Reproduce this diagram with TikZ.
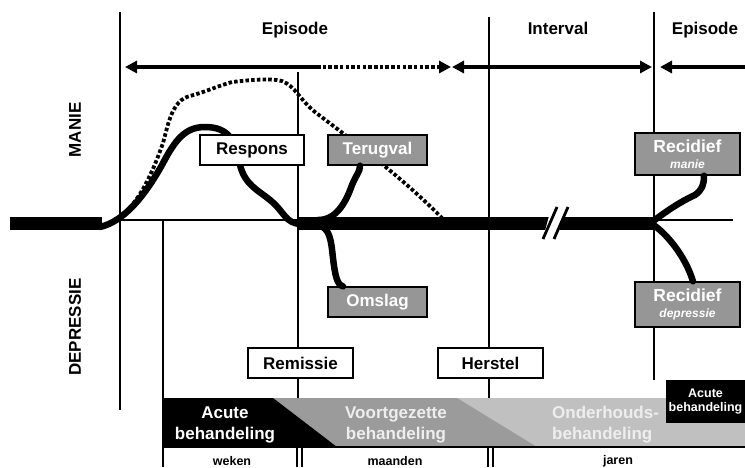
\documentclass[tikz,border=0pt]{standalone}
\usepackage{fontspec}
\setmainfont{Liberation Sans}
\usetikzlibrary{arrows.meta,calc}
\definecolor{boxgrey}{RGB}{150,150,150}
\definecolor{midgrey}{RGB}{155,155,155}
\definecolor{lightgrey}{RGB}{192,192,192}
\definecolor{palefont}{RGB}{238,238,238}
\begin{document}
\begin{tikzpicture}[x=1pt,y=-1pt,
  rule/.style={line width=1.4pt},
  course/.style={line width=6.5pt,line cap=round},
  trend/.style={line width=3.8pt,dash pattern=on 3.5pt off 2.2pt},
  span/.style={line width=4pt},
  tipL/.style={-{Triangle[length=12pt,width=12pt]}},
  statebox/.style={draw,line width=1.4pt,fill=white,inner sep=0pt,
    minimum height=30pt,font=\fontsize{17}{18}\selectfont\bfseries},
  greybox/.style={statebox,fill=boxgrey,text=white},
  phase/.style={font=\fontsize{17}{18}\selectfont\bfseries,anchor=base},
  axislabel/.style={font=\fontsize{17}{18}\selectfont\bfseries,rotate=90},
  bandtext/.style={font=\fontsize{17}{21}\selectfont\bfseries,align=center,inner sep=0pt},
  unit/.style={font=\fontsize{12.5}{14}\selectfont\bfseries,inner sep=0pt}
]
\useasboundingbox (0,0) rectangle (745,467);

% time bands and period labels
\draw[rule] (120,12) -- (120,410);
\draw[rule] (163,220) -- (163,467);
\draw[rule] (298,72) -- (298,447);
\draw[rule] (489,17) -- (489,447);
\draw[rule] (654,12) -- (654,380);
\draw[rule] (120,220) -- (298,220);
\draw[rule] (654,220) -- (733,220);

\node[phase] (ep1) at (295,34) {Episode};
\node[phase] (int) at (558,34) {Interval};
\node[phase] (ep2) at (705,34) {Episode};

\node[axislabel] (manie) at (75,130) {MANIE};
\node[axislabel] (depr) at (75,327) {DEPRESSIE};

% span arrows
\coordinate (a0) at (125,67);
\coordinate (a1) at (317,67);
\coordinate (a2) at (451,67);
\coordinate (a3) at (452,67);
\coordinate (a4) at (652,67);
\coordinate (a5) at (660,67);
\coordinate (a6) at (745,67);
\draw[span,tipL] (a1) -- (a0);
\draw[trend] (a1) -- ($(a2)+(-10,0)$);
\draw[span,tipL] ($(a2)+(-11,0)$) -- (a2);
\draw[span,{Triangle[length=12pt,width=12pt]}-{Triangle[length=12pt,width=12pt]}] (a3) -- (a4);
\draw[span,tipL] (a6) -- (a5);

% course of the episode
\fill (10,217) rectangle (102,230);
\fill (298,217) rectangle (656,230);
\draw[course] (100,227) .. controls (125,221) and (145,195) .. (162,165)
  .. controls (175,140) and (185,127) .. (205,127)
  .. controls (228,127) and (236,140) .. (240,165)
  .. controls (245,185) and (258,190) .. (270,200)
  .. controls (285,212) and (285,224) .. (302,224);

% break in the time axis
\fill[white] (549,216) -- (563,216) -- (559,231) -- (545,231) -- cycle;
\draw[line width=2.8pt] (543,239) -- (557,207);
\draw[line width=2.8pt] (554,239) -- (568,207);

% untreated course
\draw[trend] (112,222) .. controls (135,210) and (150,180) .. (163,143)
  .. controls (168,125) and (172,100) .. (190,96)
  .. controls (205,92) and (215,87) .. (232,82)
  .. controls (250,80) and (270,78) .. (282,81)
  .. controls (295,86) and (300,100) .. (315,112)
  .. controls (345,135) and (400,175) .. (442,218);

% states
\node[statebox,minimum width=104pt] (respons) at (252,150) {Respons};
\node[greybox,minimum width=99pt] (terugval) at (377.5,150) {Terugval};
\node[greybox,minimum width=99pt] (omslag) at (377.5,302) {Omslag};
\node[statebox,minimum width=105pt] (remissie) at (300.5,363) {Remissie};
\node[statebox,minimum width=105pt] (herstel) at (490.5,363) {Herstel};
\node[greybox,minimum width=105pt,minimum height=42pt,align=center,
  font=\fontsize{17.5}{18}\selectfont\bfseries] (recman) at (687.5,154)
  {Recidief\\[-2pt]{\fontsize{12}{13}\selectfont\itshape manie}};
\node[greybox,minimum width=105pt,minimum height=45pt,align=center,
  font=\fontsize{17.5}{18}\selectfont\bfseries] (recdep) at (687.5,304.5)
  {Recidief\\[-2pt]{\fontsize{12}{13}\selectfont\itshape depressie}};

% branches to the states
\draw[course] (318,220) .. controls (335,220) and (345,205) .. (352,185)
  .. controls (356,175) and (360,172) .. (terugval.south -| 360,0);
\draw[course] (318,225) .. controls (330,228) and (331,240) .. (333,258)
  .. controls (335,275) and (337,285) .. (omslag.north -| 343,0);
\draw[course] (652,222) .. controls (668,210) and (680,202) .. (695,195)
  .. controls (702,190) and (704,185) .. (recman.south -| 704,0);
\draw[course] (652,224) .. controls (665,232) and (685,255) .. (recdep.north -| 693,0);

% treatment phases
\fill[lightgrey] (163,398) rectangle (745,447);
\fill[midgrey] (163,398) -- (457,398) -- (537,447) -- (163,447) -- cycle;
\fill[black] (163,398) -- (273,398) -- (337,447) -- (163,447) -- cycle;
\node[bandtext,text=white] (acute) at (225,425) {Acute\\behandeling};
\node[bandtext,text=palefont] (voort) at (396,425) {Voortgezette\\behandeling};
\node[bandtext,text=palefont,align=left,anchor=west] (onder) at (552,425) {Onderhouds-\\behandeling};
\node[fill=black,text=white,minimum width=79pt,minimum height=43pt,inner sep=0pt,
  align=center,font=\fontsize{12.5}{13.5}\selectfont\bfseries] (acute2) at (705.5,401.5)
  {Acute\\behandeling};

% time scale
\draw[rule] (163,447) -- (745,447);
\draw[rule] (297,447) -- (297,467);
\draw[rule] (302,447) -- (302,467);
\draw[rule] (488,447) -- (488,467);
\draw[rule] (493,447) -- (493,467);
\node[unit] (weken) at (232,461) {weken};
\node[unit] (maanden) at (395,461) {maanden};
\node[unit] (jaren) at (618,461) {jaren};
\end{tikzpicture}
\end{document}
